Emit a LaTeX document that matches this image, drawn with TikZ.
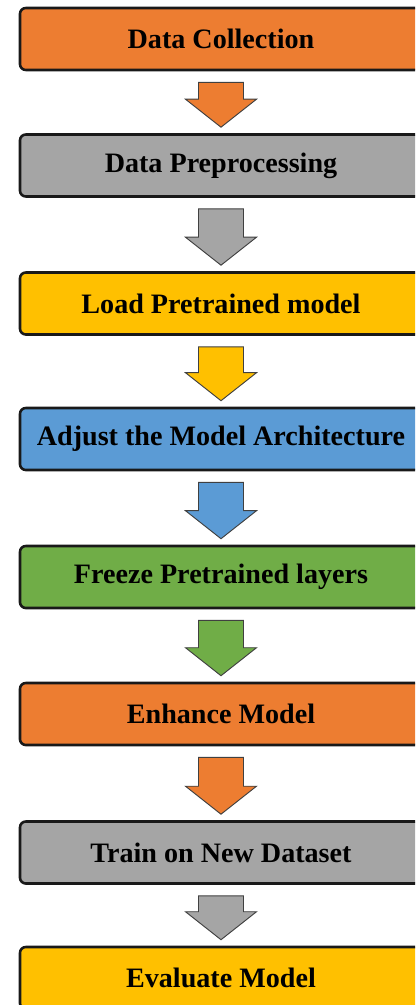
\documentclass[tikz,border=0pt]{standalone}
\usepackage{fontspec}
\setmainfont{Liberation Serif}
\usetikzlibrary{calc}

\definecolor{stageOrange}{HTML}{ED7D31}
\definecolor{stageGray}{HTML}{A5A5A5}
\definecolor{stageGold}{HTML}{FFC000}
\definecolor{stageBlue}{HTML}{5B9BD5}
\definecolor{stageGreen}{HTML}{70AD47}

\tikzset{
  stage/.style={draw=black!90, line width=2.2pt, rounded corners=5pt,
    minimum width=12.06cm, minimum height=1.86cm, inner sep=0pt,
    font=\fontsize{24}{28}\selectfont\bfseries},
  blockarrow/.style={draw=black!75, line width=0.8pt, line join=miter}
}

% block arrow from one stage down to the next: #1 from, #2 to, #3 fill
\newcommand{\flowarrow}[3]{%
  \filldraw[blockarrow, fill=#3]
    ($(#1.south)+(-22.5,11)$) -- ($(#1.south)+(22.5,11)$)
    -- ($(#2.north)+(22.5,-34)$) -- ($(#2.north)+(35.5,-34)$)
    -- ($(#2.north)+(0,-6)$) -- ($(#2.north)+(-35.5,-34)$)
    -- ($(#2.north)+(-22.5,-34)$) -- cycle;
}

\begin{document}
\begin{tikzpicture}[x=0.03cm, y=-0.03cm]
            \useasboundingbox (0,0) rectangle (415,1005);
            \clip (0,0) rectangle (415,1005);

            %Nodes
            \node[stage, fill=stageOrange] at (221,39) (collect) {Data Collection};
            \node[stage, fill=stageGray] at (221,165.5) (prep) {Data Preprocessing};
            \node[stage, fill=stageGold] at (221,303.5) (load) {Load Pretrained model};
            \node[stage, fill=stageBlue] at (221,439) (adjust) {Adjust the Model Architecture};
            \node[stage, fill=stageGreen] at (221,577) (freeze) {Freeze Pretrained layers};
            \node[stage, fill=stageOrange] at (221,714) (enhance) {Enhance Model};
            \node[stage, fill=stageGray] at (221,852.5) (train) {Train on New Dataset};
            \node[stage, fill=stageGold] at (221,978) (evaluate) {Evaluate Model};

            %Arrows
            \flowarrow{collect}{prep}{stageOrange}
            \flowarrow{prep}{load}{stageGray}
            \flowarrow{load}{adjust}{stageGold}
            \flowarrow{adjust}{freeze}{stageBlue}
            \flowarrow{freeze}{enhance}{stageGreen}
            \flowarrow{enhance}{train}{stageOrange}
            \flowarrow{train}{evaluate}{stageGray}
        \end{tikzpicture}
\end{document}
